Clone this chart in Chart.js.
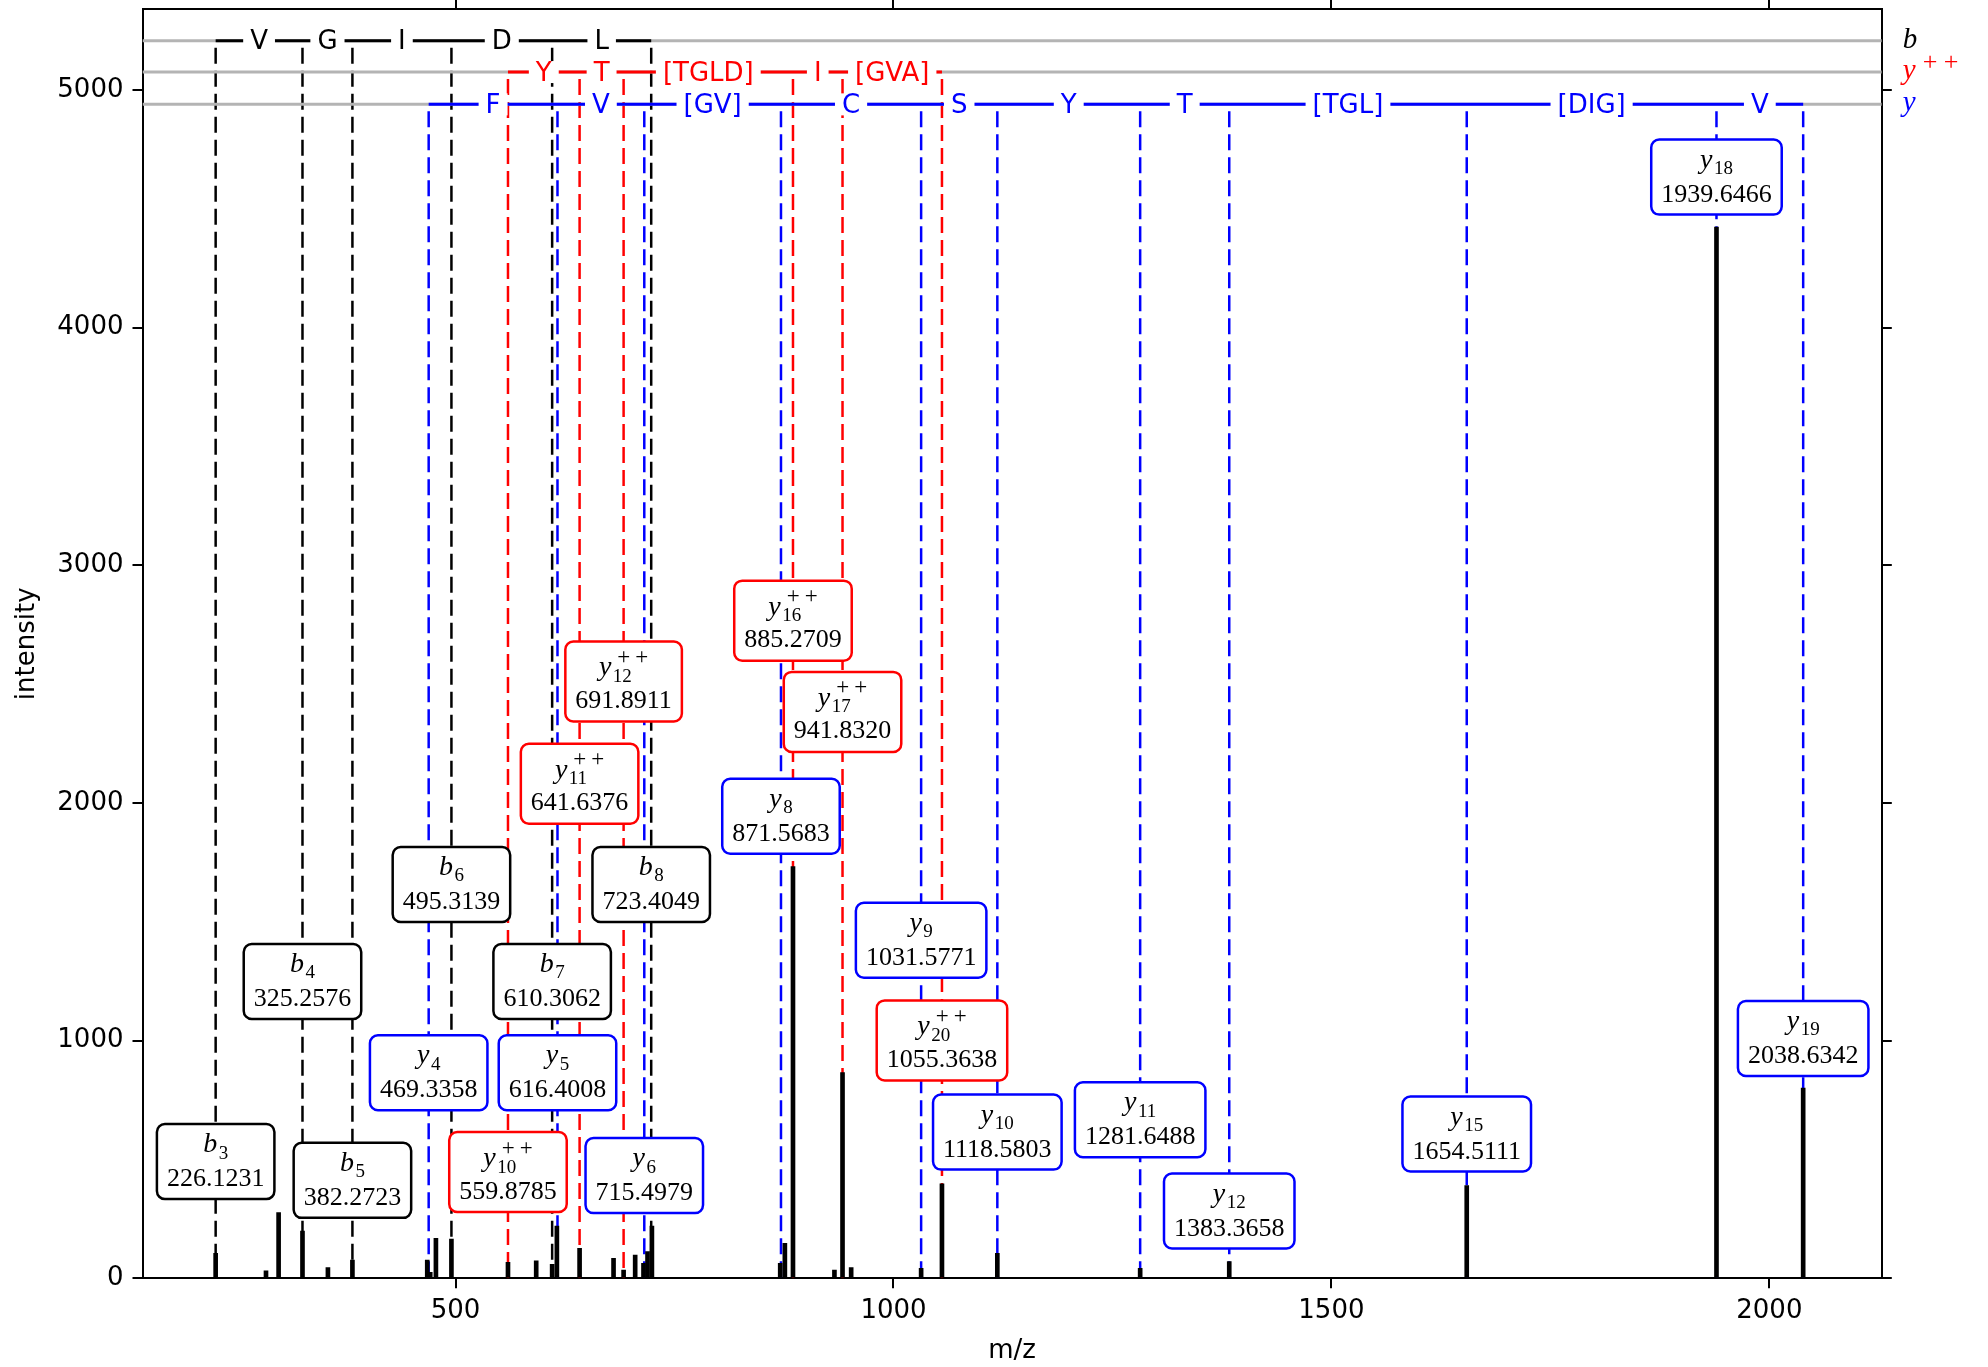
<!DOCTYPE html>
<html>
<head>
<meta charset="utf-8">
<script src="https://cdn.jsdelivr.net/npm/chart.js@4.4.1/dist/chart.umd.min.js"></script>
<style>
html, body { margin: 0; padding: 0; background: #ffffff; overflow: hidden; }
#wrap { position: relative; width: 1988px; height: 1367px; }
</style>
</head>
<body>
<div id="wrap"><canvas id="c"></canvas></div>
<script>
// ---------------- data ----------------
const xRange = [142.6, 2128.4];
const yRange = [0, 5339];
const xTicks = [500, 1000, 1500, 2000];
const yTicks = [0, 1000, 2000, 3000, 4000, 5000];

const peakMz = [226.12, 283.6, 298.0, 325.26, 354.3, 382.27, 467.7, 471.1, 477.6, 495.31,
  559.88, 592.1, 610.31, 615.7, 641.64, 680.4, 691.89, 705.1, 714.6, 719.2, 724.2,
  870.7, 876.0, 885.27, 932.6, 941.83, 951.7, 1031.58, 1055.36, 1118.58,
  1281.65, 1383.37, 1654.51, 1939.65, 2038.63];
const peakIntensity = [105, 31, 276, 199, 45, 77, 77, 25, 168, 165,
  67, 74, 59, 220, 126, 84, 35, 98, 63, 112, 220,
  63, 147, 1732, 35, 866, 45, 42, 397, 105,
  42, 70, 390, 4423, 800];

const seriesNames = ['b', 'y++', 'y'];
const trackY = [5207, 5075, 4939];

const bMz = [226.1231, 325.2576, 382.2723, 495.3139, 610.3062, 723.4049];
const bNumbers = ['3', '4', '5', '6', '7', '8'];
const bLabelY = [491, 1249, 412, 1657, 1249, 1657];
const bResidues = ['V', 'G', 'I', 'D', 'L'];

const yppMz = [559.8785, 641.6376, 691.8911, 885.2709, 941.8320, 1055.3638];
const yppNumbers = ['10', '11', '12', '16', '17', '20'];
const yppLabelY = [447, 2081, 2511, 2767, 2383, 1001];
const yppResidues = ['Y', 'T', '[TGLD]', 'I', '[GVA]'];

const yMz = [469.3358, 616.4008, 715.4979, 871.5683, 1031.5771, 1118.5803,
  1281.6488, 1383.3658, 1654.5111, 1939.6466, 2038.6342];
const yNumbers = ['4', '5', '6', '8', '9', '10', '11', '12', '15', '18', '19'];
const yLabelY = [865, 865, 432, 1944, 1422, 615, 667, 283, 607, 4633, 1009];
const yResidues = ['F', 'V', '[GV]', 'C', 'S', 'Y', 'T', '[TGL]', '[DIG]', 'V'];

// ---------------- series description ----------------
const SERIF = '"Liberation Serif", "Times New Roman", serif';
const SANS = '"DejaVu Sans", sans-serif';

const ionSeries = [
  { letter: 'b', charged: false, color: '#000000', mz: bMz, numbers: bNumbers, labelY: bLabelY, residues: bResidues, track: trackY[0] },
  { letter: 'y', charged: true,  color: '#ff0000', mz: yppMz, numbers: yppNumbers, labelY: yppLabelY, residues: yppResidues, track: trackY[1] },
  { letter: 'y', charged: false, color: '#0000ff', mz: yMz, numbers: yNumbers, labelY: yLabelY, residues: yResidues, track: trackY[2] }
];

// ---------------- datasets ----------------
const datasets = [];
datasets.push({
  type: 'bar', label: 'peaks',
  data: peakMz.map((m, i) => ({ x: m, y: peakIntensity[i] })),
  backgroundColor: '#000000', borderWidth: 0, barThickness: 4, grouped: false, order: 1
});
ionSeries.forEach((s, k) => {
  datasets.push({
    type: 'line', label: seriesNames[k] + ' track',
    data: [{ x: s.mz[0], y: s.track }, { x: s.mz[s.mz.length - 1], y: s.track }],
    borderColor: s.color, borderWidth: 3, pointRadius: 0, fill: false, order: 2
  });
  datasets.push({
    type: 'line', label: seriesNames[k] + ' base',
    data: [{ x: xRange[0], y: s.track }, { x: xRange[1], y: s.track }],
    borderColor: '#b4b4b4', borderWidth: 3, pointRadius: 0, fill: false, order: 3
  });
  const pts = [];
  s.mz.forEach(m => { pts.push({ x: m, y: s.track }); pts.push({ x: m, y: 0 }); pts.push({ x: m, y: null }); });
  datasets.push({
    type: 'line', label: seriesNames[k] + ' markers',
    data: pts, borderColor: s.color, borderWidth: 2.5, borderDash: [16, 7], borderDashOffset: 16,
    pointRadius: 0, fill: false, spanGaps: false, order: 4
  });
});

// ---------------- annotation plugin ----------------
function roundRect(ctx, x, y, w, h, r) {
  ctx.beginPath();
  ctx.moveTo(x + r, y);
  ctx.arcTo(x + w, y, x + w, y + h, r);
  ctx.arcTo(x + w, y + h, x, y + h, r);
  ctx.arcTo(x, y + h, x, y, r);
  ctx.arcTo(x, y, x + w, y, r);
  ctx.closePath();
}

function drawBox(ctx, cx, cy, s, sub, num) {
  ctx.font = '26px ' + SERIF;
  const tw = ctx.measureText(num).width;
  const w = tw + 20, h = s.charged ? 80 : 75;
  const top = cy - h / 2, left = cx - w / 2;
  roundRect(ctx, left, top, w, h, 8);
  ctx.fillStyle = '#ffffff'; ctx.fill();
  ctx.lineWidth = 2.5; ctx.strokeStyle = s.color; ctx.stroke();

  ctx.fillStyle = '#000000';
  ctx.textBaseline = 'alphabetic';
  ctx.textAlign = 'center';
  ctx.fillText(num, cx, top + (s.charged ? 66.5 : 62));

  ctx.font = 'italic 28px ' + SERIF;
  const lw = ctx.measureText(s.letter).width;
  ctx.font = '19px ' + SERIF;
  const sw = ctx.measureText(sub).width;
  const gw = lw + (s.charged ? Math.max(1.5 + sw, 37) : 1.5 + sw);
  const x0 = cx - gw / 2;
  const base = top + (s.charged ? 34 : 28);
  ctx.textAlign = 'left';
  ctx.font = 'italic 28px ' + SERIF;
  ctx.fillText(s.letter, x0, base);
  ctx.font = '19px ' + SERIF;
  ctx.fillText(sub, x0 + lw + 1.5, base + 6.5);
  if (s.charged) {
    ctx.font = '23px ' + SERIF;
    ctx.fillText('+', x0 + lw + 6, top + 22.5);
    ctx.fillText('+', x0 + lw + 24, top + 22.5);
  }
}

const annotationPlugin = {
  id: 'spectrumAnnotations',
  afterDatasetsDraw(chart) {
    const ctx = chart.ctx, xs = chart.scales.x, ys = chart.scales.y;
    const area = chart.chartArea;
    ctx.save();
    ctx.font = '26px ' + SANS;
    ctx.textAlign = 'center';
    ctx.textBaseline = 'middle';
    ionSeries.forEach(s => {
      const py = ys.getPixelForValue(s.track);
      s.residues.forEach((r, i) => {
        const px = xs.getPixelForValue((s.mz[i] + s.mz[i + 1]) / 2);
        const w = ctx.measureText(r).width + 14;
        ctx.fillStyle = '#ffffff';
        ctx.fillRect(px - w / 2, py - 11, w, 22);
        ctx.fillStyle = s.color;
        ctx.fillText(r, px, py + 2);
      });
    });
    ionSeries.forEach(s => {
      s.mz.forEach((m, i) => {
        drawBox(ctx, xs.getPixelForValue(m), ys.getPixelForValue(s.labelY[i]), s, s.numbers[i], m.toFixed(4));
      });
    });
    ionSeries.forEach(s => {
      const py = ys.getPixelForValue(s.track);
      const x0 = area.right + 21;
      ctx.fillStyle = s.color;
      ctx.textAlign = 'left';
      ctx.textBaseline = 'alphabetic';
      ctx.font = 'italic 29px ' + SERIF;
      ctx.fillText(s.letter, x0, py + 7);
      if (s.charged) {
        ctx.font = '26px ' + SERIF;
        ctx.fillText('+', x0 + 20, py - 2);
        ctx.fillText('+', x0 + 41, py - 2);
      }
    });
    ctx.restore();
  }
};

// ---------------- chart ----------------
const gridCommon = { drawOnChartArea: false, drawTicks: true, tickLength: 10, color: '#000000', tickColor: '#000000', lineWidth: 2, tickWidth: 2, offset: false };
const borderCommon = { display: true, color: '#000000', width: 2 };
function fixH(h) { return s => { s.height = h; s.paddingLeft = 0; s.paddingRight = 0; s.paddingTop = 0; s.paddingBottom = 0; }; }
function fixW(w) { return s => { s.width = w; s.paddingLeft = 0; s.paddingRight = 0; s.paddingTop = 0; s.paddingBottom = 0; }; }

new Chart(document.getElementById('c'), {
  type: 'bar',
  data: { datasets: datasets },
  options: {
    responsive: true,
    maintainAspectRatio: false,
    animation: false,
    devicePixelRatio: 1,
    layout: { padding: 0 },
    plugins: { legend: { display: false }, tooltip: { enabled: false } },
    scales: {
      x: {
        type: 'linear', position: 'bottom', min: xRange[0], max: xRange[1], offset: false,
        afterBuildTicks: s => { s.ticks = xTicks.map(v => ({ value: v })); },
        afterFit: fixH(88.7),
        grid: gridCommon, border: borderCommon,
        ticks: { padding: 7, color: '#000000', font: { family: 'DejaVu Sans', size: 26 }, maxRotation: 0, callback: v => String(v) },
        title: { display: true, text: 'm/z', color: '#000000', font: { family: 'DejaVu Sans', size: 26 }, padding: { top: 0, bottom: 0 } }
      },
      x2: {
        type: 'linear', position: 'top', min: xRange[0], max: xRange[1], offset: false,
        afterBuildTicks: s => { s.ticks = xTicks.map(v => ({ value: v })); },
        afterFit: fixH(9.3),
        grid: gridCommon, border: borderCommon,
        ticks: { display: false }
      },
      y: {
        type: 'linear', position: 'left', min: yRange[0], max: yRange[1],
        afterBuildTicks: s => { s.ticks = yTicks.map(v => ({ value: v })); },
        afterFit: fixW(142.5),
        grid: gridCommon, border: borderCommon,
        ticks: { padding: 9, color: '#000000', font: { family: 'DejaVu Sans', size: 26 }, callback: v => String(v) },
        title: { display: true, text: 'intensity', color: '#000000', font: { family: 'DejaVu Sans', size: 26 }, padding: { top: 12, bottom: 0 } }
      },
      y2: {
        type: 'linear', position: 'right', min: yRange[0], max: yRange[1],
        afterBuildTicks: s => { s.ticks = yTicks.map(v => ({ value: v })); },
        afterFit: fixW(106.2),
        grid: gridCommon, border: borderCommon,
        ticks: { display: false }
      }
    }
  },
  plugins: [annotationPlugin]
});
</script>
</body>
</html>
